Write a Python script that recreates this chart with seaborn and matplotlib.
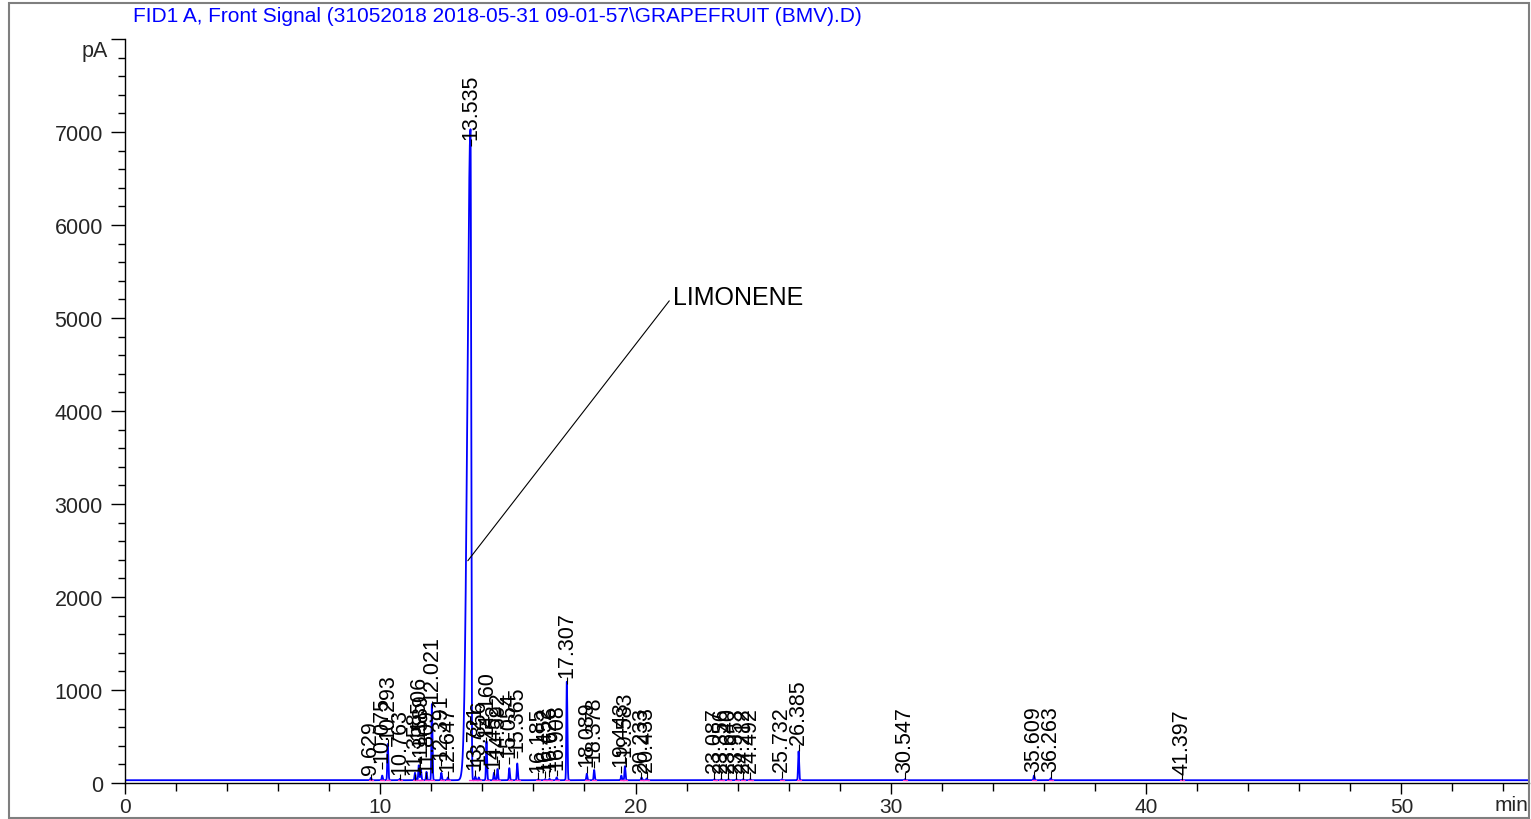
import numpy as np
import pandas as pd
import matplotlib
matplotlib.use("Agg")
import matplotlib.pyplot as plt
from matplotlib.patches import Rectangle
from matplotlib.ticker import MultipleLocator, FixedLocator
import seaborn as sns

# ---------------- data ----------------
title = "FID1 A, Front Signal (31052018 2018-05-31 09-01-57\\GRAPEFRUIT (BMV).D)"
retention_times = [9.629, 10.075, 10.293, 10.763, 11.358, 11.506, 11.589, 11.809,
                   12.021, 12.391, 12.647, 13.535, 13.721, 13.856, 14.160, 14.452,
                   14.592, 15.054, 15.365, 16.185, 16.452, 16.626, 16.908, 17.307,
                   18.089, 18.378, 19.443, 19.583, 20.233, 20.433, 23.087, 23.356,
                   23.640, 23.953, 24.212, 24.492, 25.732, 26.385, 30.547, 35.609,
                   36.263, 41.397]
peak_heights = [55, 80, 420, 45, 110, 190, 150, 120,
                850, 110, 60, 7030, 70, 60, 450, 110,
                150, 160, 210, 40, 40, 45, 60, 1090,
                100, 140, 80, 180, 60, 50, 40, 40,
                40, 40, 40, 40, 40, 340, 40, 80,
                50, 35]
label_levels = [97, 226, 473, 97, 97, 473, 290, 118,
                882, 258, 129, 6925, 150, 204, 505, 160,
                290, 280, 344, 118, 130, 140, 150, 1140,
                183, 237, 183, 290, 118, 129, 118, 118,
                118, 118, 118, 118, 129, 419, 118, 129,
                129, 97]
baseline_level = 30
annotation_text = "LIMONENE"
annotation_point = (13.43, 2390)
annotation_text_pos = (21.45, 5230)
x_major_ticks = [0, 10, 20, 30, 40, 50]
y_major_ticks = [0, 1000, 2000, 3000, 4000, 5000, 6000, 7000, 8000]
y_tick_labels = ["0", "1000", "2000", "3000", "4000", "5000", "6000", "7000", ""]
x_unit = "min"
y_unit = "pA"

# ---------------- build trace from peak table ----------------
t = np.arange(0, 55.0001, 0.002)
signal = np.full_like(t, float(baseline_level))
for rt, h in zip(retention_times, peak_heights):
    amp = h - baseline_level
    if amp > 3000:
        sl, sr = 0.12, 0.025
    else:
        sl, sr = 0.018, 0.022
    s = np.where(t < rt, sl, sr)
    signal += amp * np.exp(-0.5 * ((t - rt) / s) ** 2)
df = pd.DataFrame({"time": t, "signal": signal})

# ---------------- figure ----------------
sns.set_theme(style="white")
plt.rcParams["font.family"] = ["Liberation Sans", "DejaVu Sans"]

W, H = 1531, 820
fig = plt.figure(figsize=(W / 100, H / 100), dpi=100)
ax = fig.add_axes([125 / W, (H - 784) / H, (1529 - 125) / W, (784 - 40) / H])

sns.lineplot(data=df, x="time", y="signal", ax=ax, color="#0000ff",
             linewidth=1.3, estimator=None, sort=False)

# integration baselines (magenta) under peaks
for rt in retention_times:
    ax.plot([rt - 0.07, rt + 0.09], [baseline_level, baseline_level],
            color="#ff33cc", lw=1.0, zorder=3)

# peak labels with small tick
for rt, lv in zip(retention_times, label_levels):
    ax.vlines(rt, max(lv - 75, baseline_level), lv - 5, color="black", lw=0.8, zorder=4)
    ax.text(rt, lv, f"{rt:.3f}", rotation=90, ha="center", va="bottom",
            fontsize=15.5, color="black", zorder=5)

ax.annotate(annotation_text, xy=annotation_point, xytext=annotation_text_pos,
            ha="left", va="center", fontsize=18, color="black",
            arrowprops=dict(arrowstyle="-", color="black", lw=0.8,
                            shrinkA=0, shrinkB=0, relpos=(0, 0.5)))

ax.set_xlim(0, 55)
ax.set_ylim(0, 8000)
ax.xaxis.set_major_locator(FixedLocator(x_major_ticks))
ax.xaxis.set_minor_locator(MultipleLocator(2))
ax.yaxis.set_major_locator(FixedLocator(y_major_ticks))
ax.yaxis.set_minor_locator(MultipleLocator(200))
ax.set_yticklabels(y_tick_labels)
ax.set_xlabel("")
ax.set_ylabel("")
ax.tick_params(axis="x", which="major", direction="out", length=8, width=1,
               color="black", labelsize=15, pad=2, bottom=True)
ax.tick_params(axis="x", which="minor", direction="out", length=6, width=1,
               color="black", bottom=True)
ax.tick_params(axis="y", which="major", direction="out", length=10, width=1,
               color="black", labelsize=15.5, pad=6, left=True)
ax.tick_params(axis="y", which="minor", direction="out", length=5, width=1,
               color="black", left=True)
for side in ["top", "right"]:
    ax.spines[side].set_visible(False)
for side in ["left", "bottom"]:
    ax.spines[side].set_color("black")
    ax.spines[side].set_linewidth(1.0)
ax.set_facecolor("white")

fig.text(108 / W, 1 - 52 / H, y_unit, ha="right", va="center", fontsize=15.5)
fig.text(1512 / W, 1 - 806 / H, x_unit, ha="center", va="center", fontsize=15)
fig.text(133 / W, 1 - 17 / H, title, ha="left", va="center", fontsize=15, color="#0000ff")

fig.patches.append(Rectangle((9 / W, 1 - 819 / H), (1529 - 9) / W, (819 - 4) / H,
                             transform=fig.transFigure, fill=False,
                             edgecolor="#7f7f7f", lw=1.5))

fig.savefig("out.png", dpi=100)
